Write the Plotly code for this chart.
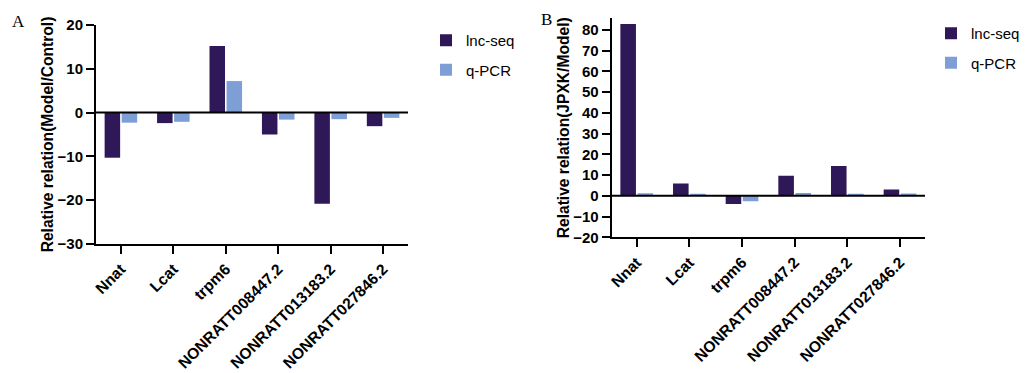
import plotly.graph_objects as go

categories = ["Nnat", "Lcat", "trpm6", "NONRATT008447.2", "NONRATT013183.2", "NONRATT027846.2"]
a_lnc = [-10.3, -2.4, 15.2, -5.0, -20.8, -3.1]
a_qpcr = [-2.3, -2.1, 7.2, -1.6, -1.5, -1.2]
b_lnc = [82.9, 6.0, -4.0, 9.7, 14.4, 3.1]
b_qpcr = [1.2, 1.0, -2.6, 1.4, 1.0, 1.1]

series_names = ["lnc-seq", "q-PCR"]
c_dark = "#2f1857"
c_light = "#7d9fd6"

W, H = 1030, 373
FONT = "Liberation Sans, Arial, sans-serif"

fig = go.Figure()
fig.add_trace(go.Bar(x=categories, y=a_lnc, name=series_names[0], marker_color=c_dark,
                     xaxis="x", yaxis="y", legend="legend", legendgroup="a1", marker_line_width=0))
fig.add_trace(go.Bar(x=categories, y=a_qpcr, name=series_names[1], marker_color=c_light,
                     xaxis="x", yaxis="y", legend="legend", legendgroup="a2", marker_line_width=0))
fig.add_trace(go.Bar(x=categories, y=b_lnc, name=series_names[0], marker_color=c_dark,
                     xaxis="x2", yaxis="y2", legend="legend2", legendgroup="b1", marker_line_width=0))
fig.add_trace(go.Bar(x=categories, y=b_qpcr, name=series_names[1], marker_color=c_light,
                     xaxis="x2", yaxis="y2", legend="legend2", legendgroup="b2", marker_line_width=0))

def px_x(v):
    return v / W

def px_y(v):
    return 1 - v / H

xcommon = dict(showline=True, linewidth=2, linecolor="black", ticks="outside",
               ticklen=8, tickwidth=2, tickcolor="black", tickangle=-45, automargin=False,
               tickfont=dict(family=FONT, size=15.6, color="black", weight="bold"),
               showgrid=False, zeroline=False, range=[-0.475, 5.475])
ycommon = dict(showline=True, linewidth=2, linecolor="black", ticks="outside",
               ticklen=8, tickwidth=2, tickcolor="black", automargin=False,
               tickfont=dict(family=FONT, size=15, color="black", weight="bold"),
               showgrid=False, zeroline=False)

fig.update_layout(
    width=W, height=H,
    margin=dict(l=0, r=0, t=0, b=0, autoexpand=False),
    paper_bgcolor="white", plot_bgcolor="white",
    barmode="group", bargap=0.35, bargroupgap=0.09,
    xaxis=dict(domain=[px_x(96), px_x(408)], anchor="y", **xcommon),
    yaxis=dict(domain=[px_y(244), px_y(25)], anchor="x", range=[-30, 20],
               tickvals=[-30, -20, -10, 0, 10, 20],
               title=dict(text="Relative relation(Model/Control)", standoff=0,
                          font=dict(family=FONT, size=15.6, color="black", weight="bold")),
               **ycommon),
    xaxis2=dict(domain=[px_x(611.7), px_x(925)], anchor="y2", **xcommon),
    yaxis2=dict(domain=[px_y(237.3), px_y(18.3)], anchor="x2", range=[-20, 85.6],
                tickvals=[-20, -10, 0, 10, 20, 30, 40, 50, 60, 70, 80],
                title=dict(text="Relative relation(JPXK/Model)", standoff=0,
                           font=dict(family=FONT, size=15.6, color="black", weight="bold")),
                **ycommon),
    legend=dict(x=px_x(426), y=px_y(24), xanchor="left", yanchor="top", tracegroupgap=7,
                font=dict(family=FONT, size=15, color="black"), bgcolor="rgba(0,0,0,0)"),
    legend2=dict(x=px_x(931), y=px_y(17), xanchor="left", yanchor="top", tracegroupgap=7,
                 font=dict(family=FONT, size=15, color="black"), bgcolor="rgba(0,0,0,0)"),
    showlegend=True,
    shapes=[
        dict(type="line", xref="x domain", yref="y", x0=0, x1=1, y0=0, y1=0,
             line=dict(color="black", width=2)),
        dict(type="line", xref="x2 domain", yref="y2", x0=0, x1=1, y0=0, y1=0,
             line=dict(color="black", width=2)),
    ],
    annotations=[
        dict(text="A", xref="paper", yref="paper", x=px_x(10), y=px_y(10), xanchor="left",
             yanchor="top", showarrow=False, font=dict(family="Liberation Serif, Times New Roman, serif", size=17, color="black")),
        dict(text="B", xref="paper", yref="paper", x=px_x(539), y=px_y(8), xanchor="left",
             yanchor="top", showarrow=False, font=dict(family="Liberation Serif, Times New Roman, serif", size=17, color="black")),
    ],
)

fig.write_html("out.html", config={"displayModeBar": False},
               post_script="document.body.style.margin='0';document.body.style.overflow='hidden';")
